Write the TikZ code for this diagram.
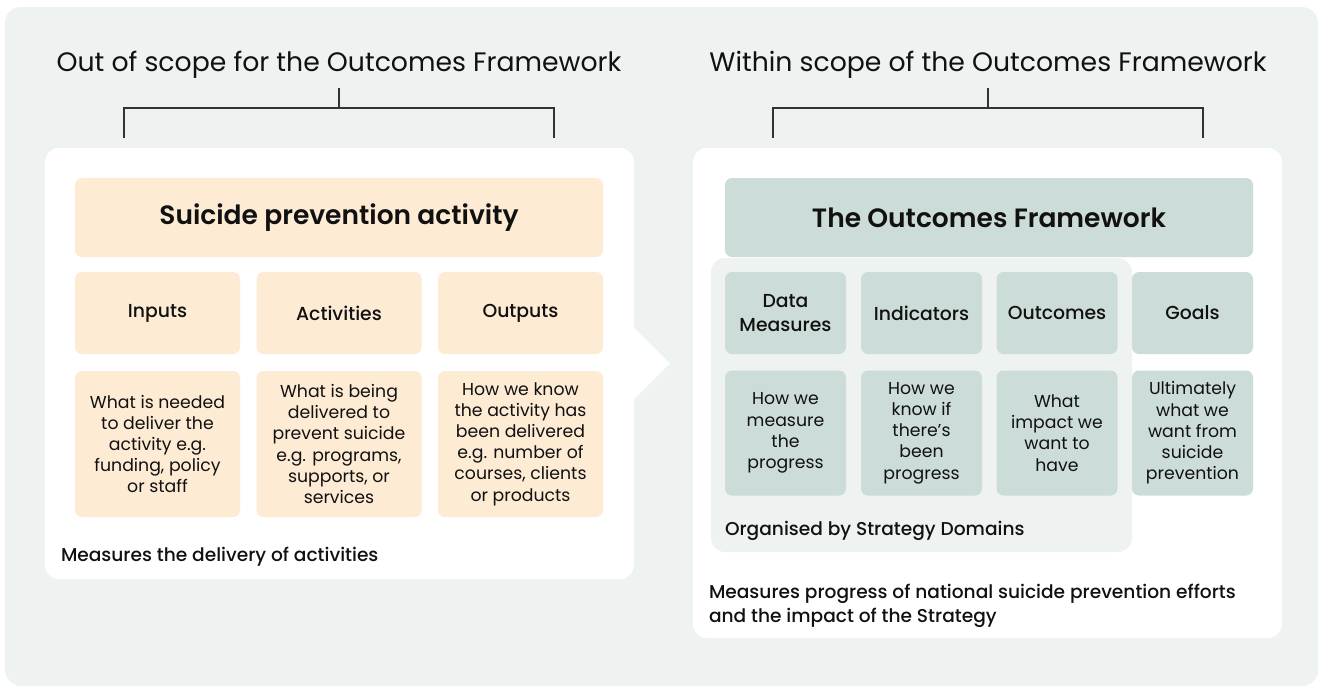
\documentclass[tikz,border=0pt]{standalone}
\usepackage{fontspec}
\setmainfont{Poppins}
\newfontfamily\popmed{Poppins Medium}
\newfontfamily\popbold{Poppins SemiBold}
\definecolor{bgc}{HTML}{EEF2F1}
\definecolor{peach}{HTML}{FDEBD4}
\definecolor{sage}{HTML}{CCDCD8}
\definecolor{ink}{HTML}{111111}
\definecolor{rule}{HTML}{333333}
\begin{document}
\begin{tikzpicture}[x=1pt,y=-1pt,
  every node/.style={text=ink, inner sep=0pt, outer sep=0pt},
  panel/.style={fill=white, rounded corners=14pt},
  box/.style={rounded corners=7pt, align=center},
  pbox/.style={box, fill=peach},
  gbox/.style={box, fill=sage},
  head/.style={font=\fontsize{26.7}{32}\selectfont},
  title/.style={font=\popbold\fontsize{26.5}{30}\selectfont},
  label/.style={font=\popmed\fontsize{18.8}{24}\selectfont},
  body/.style={font=\fontsize{17.3}{21.2}\selectfont},
  note/.style={font=\popmed\fontsize{18.6}{24}\selectfont, anchor=west, align=left},
  bracket/.style={draw=rule, line width=1.2pt}
]
\useasboundingbox (0,0) rectangle (1323,691);
% background card
\node[fill=bgc, rounded corners=16pt, minimum width=1313pt, minimum height=679pt] (bg) at (661.5,346.5) {};

% headers
\node[head] (hleft) at (339,65) {Out of scope for the Outcomes Framework};
\node[head] (hright) at (988,65) {Within scope of the Outcomes Framework};

% brackets
\coordinate (lt) at (339,88);
\coordinate (lm) at (339,108);
\coordinate (la) at (124,138);
\coordinate (lb) at (554,138);
\draw[bracket] (lt) -- (lm);
\draw[bracket] (la) |- (lm) -| (lb);
\coordinate (rt) at (988,88);
\coordinate (rm) at (988,108);
\coordinate (ra) at (773,138);
\coordinate (rb) at (1203,138);
\draw[bracket] (rt) -- (rm);
\draw[bracket] (ra) |- (rm) -| (rb);

% left panel with pointer
\node[panel, minimum width=589pt, minimum height=431pt] (lpanel) at (339.5,363.5) {};
\fill[white] (633,327) -- (670,363.5) -- (633,400) -- cycle;

% right panel
\node[panel, minimum width=589pt, minimum height=490pt] (rpanel) at (987.5,393) {};

% left content
\node[pbox, title, minimum width=528pt, minimum height=79pt] (spa) at (339,217.5) {Suicide prevention activity};
\node[pbox, label, minimum width=165pt, minimum height=82pt] (inputs) at (157.5,313) {Inputs};
\node[pbox, label, minimum width=165pt, minimum height=82pt] (activities) at (339,313) {Activities};
\node[pbox, label, minimum width=165pt, minimum height=82pt] (outputs) at (520.5,313) {Outputs};
\node[pbox, body, minimum width=165pt, minimum height=146pt] (inputsd) at (157.5,444) {What is needed\\to deliver the\\activity e.g.\\funding, policy\\or staff};
\node[pbox, body, minimum width=165pt, minimum height=146pt] (activitiesd) at (339,444) {What is being\\delivered to\\prevent suicide\\e.g. programs,\\supports, or\\services};
\node[pbox, body, minimum width=165pt, minimum height=146pt] (outputsd) at (520.5,444) {How we know\\the activity has\\been delivered\\e.g. number of\\courses, clients\\or products};
\node[note] (lnote) at (61,557) {Measures the delivery of activities};

% right content
\node[gbox, title, minimum width=528pt, minimum height=79pt] (tof) at (989,217.5) {The Outcomes Framework};
\node[fill=bgc, rounded corners=14pt, minimum width=421pt, minimum height=294pt] (domains) at (921.5,405) {};
\node[gbox, label, minimum width=121pt, minimum height=82pt] (data) at (785.5,313) {Data\\Measures};
\node[gbox, label, minimum width=121pt, minimum height=82pt] (indicators) at (921.5,313) {Indicators};
\node[gbox, label, minimum width=121pt, minimum height=82pt] (outcomes) at (1057,313) {Outcomes};
\node[gbox, label, minimum width=121pt, minimum height=82pt] (goals) at (1192.5,313) {Goals};
\node[gbox, body, minimum width=121pt, minimum height=125pt] (datad) at (785.5,433) {How we\\measure\\the\\progress};
\node[gbox, body, minimum width=121pt, minimum height=125pt] (indicatorsd) at (921.5,433) {How we\\know if\\there’s\\been\\progress};
\node[gbox, body, minimum width=121pt, minimum height=125pt] (outcomesd) at (1057,433) {What\\impact we\\want to\\have};
\node[gbox, body, minimum width=121pt, minimum height=125pt] (goalsd) at (1192.5,433) {Ultimately\\what we\\want from\\suicide\\prevention};
\node[note] (dnote) at (725,531) {Organised by Strategy Domains};
\node[note] (rnote) at (709,606) {Measures progress of national suicide prevention efforts\\and the impact of the Strategy};
\end{tikzpicture}
\end{document}
